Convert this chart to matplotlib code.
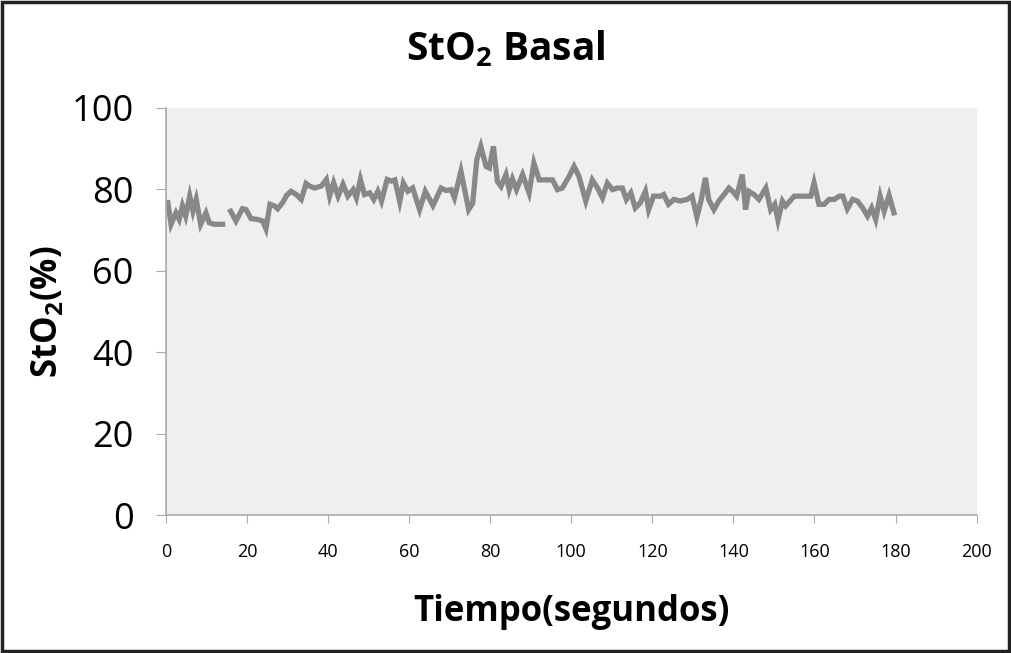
import numpy as np
import matplotlib
matplotlib.use("Agg")
import matplotlib.pyplot as plt
from matplotlib.patches import Rectangle

plt.rcParams['font.family'] = ['Open Sans', 'DejaVu Sans']
plt.rcParams['mathtext.default'] = 'regular'

# Tiempo (segundos) y StO2 (%); NaN = hueco en la señal
tiempo = [0.5, 1.3, 2.5, 3.3, 4.1, 4.9, 5.9, 6.7, 7.5, 8.6, 9.9, 10.7, 11.9, 14.0,
          15.0,
          16.0, 17.3, 18.9, 19.8, 21.0, 22.6, 23.9, 24.7, 25.7, 26.8, 27.6, 28.8,
          29.8, 30.9, 32.2, 33.4, 34.6, 35.4, 36.7, 38.4, 39.6, 40.4, 41.4, 42.5,
          43.7, 44.9, 46.2, 47.0, 48.0, 49.0, 50.3, 51.3, 52.3, 53.2, 54.6, 55.6,
          56.5, 57.7, 58.6, 59.7, 60.9, 62.6, 64.0, 65.9, 67.9, 69.1, 70.4, 71.2,
          72.8, 74.7, 75.7, 76.7, 77.7, 79.0, 79.8, 80.8, 81.8, 82.7, 83.9, 84.7,
          85.5, 86.5, 88.0, 89.6, 90.8, 92.1, 93.3, 95.4, 96.6, 97.8, 99.5, 100.7,
          101.9, 103.6, 105.2, 106.5, 107.7, 108.9, 110.2, 111.4, 112.6, 113.6,
          114.7, 115.8, 117.0, 118.3, 119.1, 120.3, 122.0, 122.8, 124.0, 125.3,
          126.9, 128.6, 129.8, 131.0, 132.0, 133.1, 133.9, 135.2, 136.4, 137.7,
          138.9, 139.8, 140.8, 142.2, 143.0, 143.8, 145.1, 146.3, 148.0, 149.2,
          150.2, 151.0, 152.1, 152.9, 155.0, 157.4, 159.1, 159.9, 161.1, 162.4,
          163.6, 164.9, 166.1, 167.0, 168.1, 169.4, 170.6, 171.9, 173.1, 174.1,
          175.1, 176.2, 177.2, 178.4, 179.6]
sto2 = [76.7, 71.4, 74.2, 72.6, 75.9, 73.4, 78.3, 74.6, 77.5, 71.4, 74.2, 71.8, 71.4, 71.4,
        np.nan,
        74.6, 72.2, 75.2, 75.0, 72.8, 72.6, 72.2, 70.3, 76.3, 75.9, 75.2, 76.7,
        78.5, 79.5, 78.7, 77.5, 81.4, 80.8, 80.3, 80.8, 82.4, 78.3, 81.6, 78.3,
        81.2, 78.3, 79.9, 77.9, 82.4, 78.7, 79.1, 77.5, 79.5, 77.1, 82.4, 82.0,
        82.3, 77.0, 81.5, 79.5, 80.3, 75.0, 79.5, 76.0, 80.3, 79.7, 79.9, 77.9,
        84.4, 75.0, 76.6, 87.2, 90.5, 85.6, 85.2, 90.5, 81.9, 80.7, 83.6, 79.9,
        82.5, 79.9, 83.6, 79.1, 86.4, 82.3, 82.3, 82.3, 79.9, 80.3, 83.2, 85.6,
        83.2, 77.1, 82.3, 80.3, 77.9, 81.5, 79.9, 80.3, 80.3, 77.5,
        79.1, 75.4, 76.6, 79.5, 75.0, 78.3, 78.3, 78.7, 76.3, 77.5,
        77.1, 77.5, 78.3, 73.2, 77.1, 82.8, 77.5, 75.0, 77.1, 78.7,
        80.3, 79.5, 78.3, 83.6, 75.0, 79.5, 78.7, 77.5, 80.3, 75.0,
        76.3, 72.4, 77.1, 75.9, 78.3, 78.3, 78.3, 81.6, 76.3, 76.3,
        77.5, 77.5, 78.3, 78.3, 75.2, 77.5, 77.1, 75.4, 73.4, 75.4,
        72.6, 78.3, 74.6, 78.5, 74.2]

xticks = list(range(0, 201, 20))
yticks = list(range(0, 101, 20))

fig = plt.figure(figsize=(10.11, 6.53), dpi=100)
ax = fig.add_axes([0.164, 0.211, 0.802, 0.624])
ax.set_facecolor('#efefef')

ax.plot(tiempo, sto2, color='#888888', linewidth=3.8, solid_joinstyle='miter')

ax.set_xlim(0, 200)
ax.set_ylim(0, 100)
ax.set_xticks(xticks)
ax.set_yticks(yticks)
ax.tick_params(axis='x', labelsize=13, direction='out', length=6, color='#aaaaaa', pad=14)
ax.tick_params(axis='y', labelsize=26, direction='out', length=7, color='#aaaaaa', pad=16)
for s in ['top', 'right']:
    ax.spines[s].set_visible(False)
for s in ['left', 'bottom']:
    ax.spines[s].set_color('#aaaaaa')
    ax.spines[s].set_linewidth(1.2)

ax.set_xlabel('Tiempo(segundos)', fontsize=25, fontweight='bold', labelpad=24)
ax.set_ylabel('StO$_2$(%)', fontsize=25, fontweight='bold', labelpad=4)
fig.text(0.5, 0.925, 'StO$_2$ Basal', fontsize=28, fontweight='bold', ha='center', va='center')

fig.patches.append(Rectangle((0.002, 0.003), 0.996, 0.994, transform=fig.transFigure,
                             fill=False, edgecolor='#222222', linewidth=2.5))

fig.savefig('out.png', dpi=100)
